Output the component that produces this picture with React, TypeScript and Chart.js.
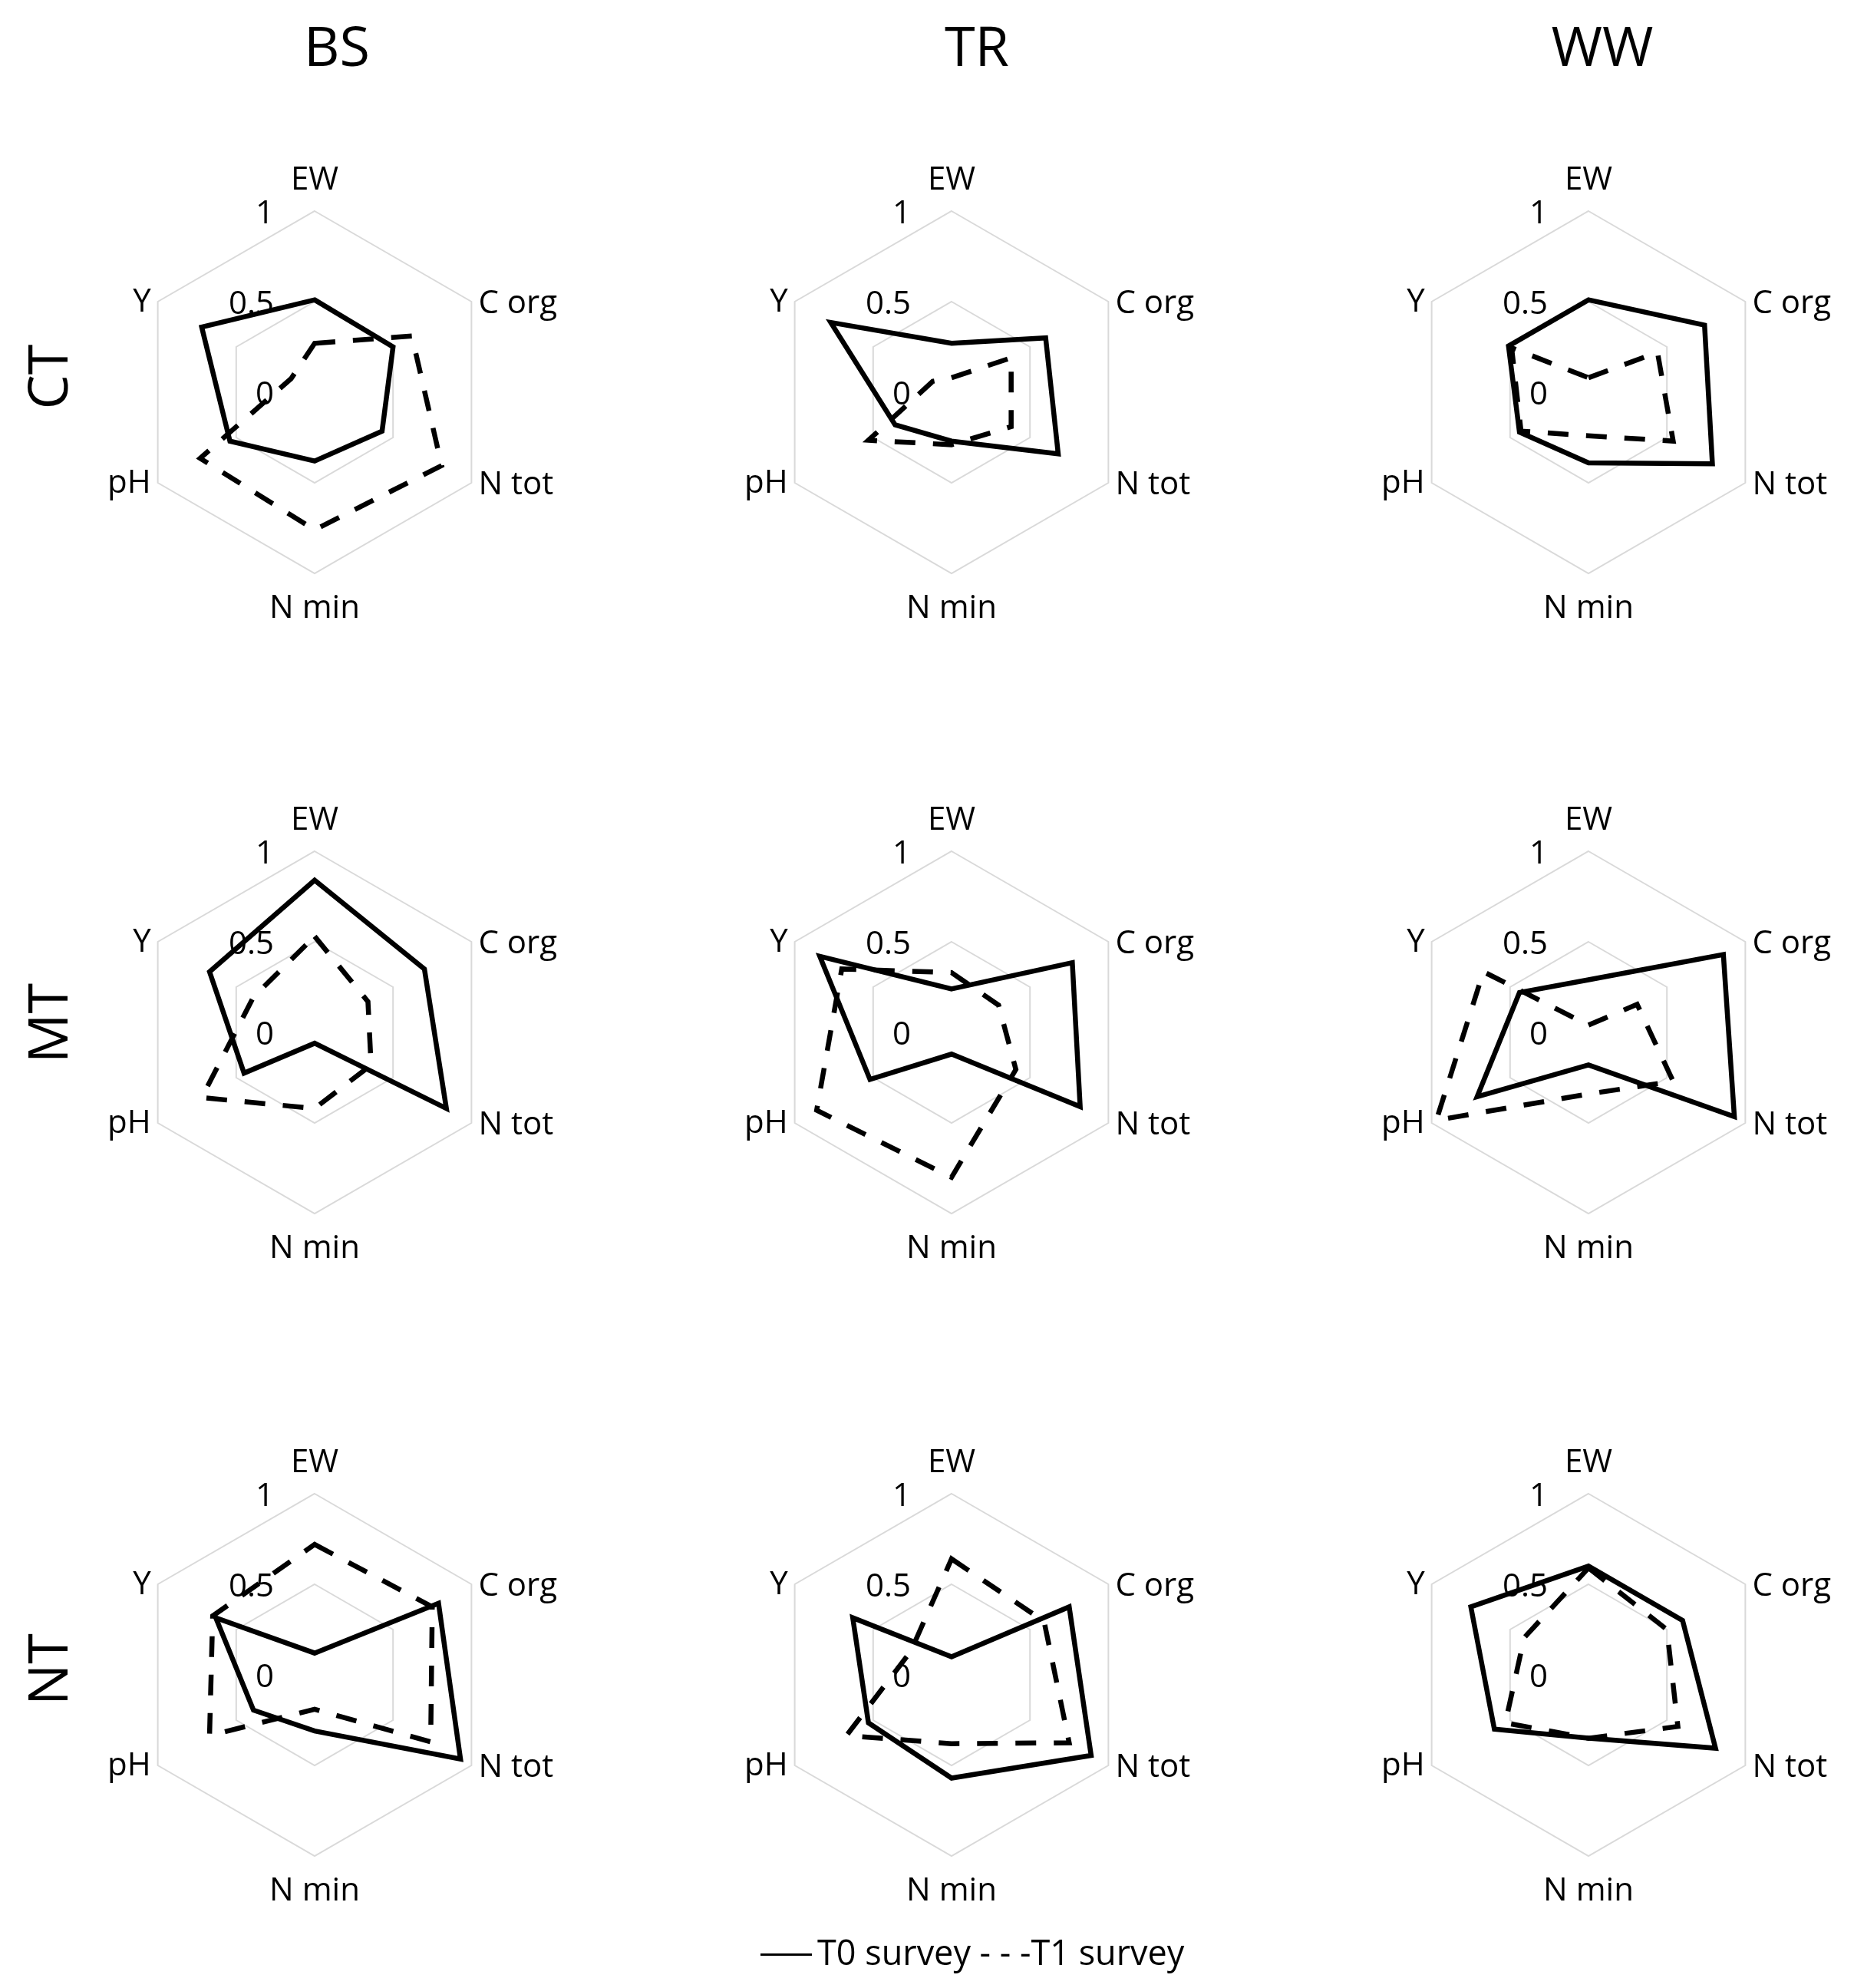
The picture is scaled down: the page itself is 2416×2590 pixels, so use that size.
import React, { useEffect, useRef } from 'react';
import { Chart, registerables } from 'chart.js';

Chart.register(...registerables);

// ---------- data ----------
const AXES = ['EW', 'C org', 'N tot', 'N min', 'pH', 'Y'];
const COLUMNS = ['BS', 'TR', 'WW'];
const ROWS = ['CT', 'MT', 'NT'];
const TICK_VALUES = [0, 0.5, 1];
const SERIES_NAMES = ['T0 survey', 'T1 survey'];

// order of values follows AXES
const BS_CT_T0 = [0.51, 0.5, 0.43, 0.38, 0.54, 0.72];
const BS_CT_T1 = [0.27, 0.62, 0.81, 0.76, 0.73, 0.15];
const TR_CT_T0 = [0.27, 0.6, 0.68, 0.27, 0.36, 0.77];
const TR_CT_T1 = [0.08, 0.38, 0.38, 0.29, 0.53, 0.12];
const WW_CT_T0 = [0.51, 0.74, 0.79, 0.39, 0.44, 0.51];
const WW_CT_T1 = [0.08, 0.44, 0.54, 0.24, 0.43, 0.49];

const BS_MT_T0 = [0.84, 0.7, 0.84, 0.06, 0.45, 0.67];
const BS_MT_T1 = [0.53, 0.34, 0.36, 0.42, 0.72, 0.39];
const TR_MT_T0 = [0.24, 0.77, 0.82, 0.12, 0.52, 0.84];
const TR_MT_T1 = [0.33, 0.3, 0.41, 0.8, 0.86, 0.7];
const WW_MT_T0 = [0.29, 0.86, 0.93, 0.18, 0.71, 0.44];
const WW_MT_T1 = [0.04, 0.31, 0.54, 0.34, 0.97, 0.67];

const BS_NT_T0 = [0.12, 0.79, 0.93, 0.31, 0.39, 0.63];
const BS_NT_T1 = [0.72, 0.75, 0.74, 0.19, 0.67, 0.65];
const TR_NT_T0 = [0.1, 0.75, 0.89, 0.57, 0.53, 0.63];
const TR_NT_T1 = [0.64, 0.59, 0.75, 0.38, 0.67, 0.26];
const WW_NT_T0 = [0.6, 0.6, 0.81, 0.35, 0.6, 0.75];
const WW_NT_T1 = [0.59, 0.5, 0.57, 0.35, 0.53, 0.41];

const PANEL_DATA = [
  [[BS_CT_T0, BS_CT_T1], [TR_CT_T0, TR_CT_T1], [WW_CT_T0, WW_CT_T1]],
  [[BS_MT_T0, BS_MT_T1], [TR_MT_T0, TR_MT_T1], [WW_MT_T0, WW_MT_T1]],
  [[BS_NT_T0, BS_NT_T1], [TR_NT_T0, TR_NT_T1], [WW_NT_T0, WW_NT_T1]],
];

// ---------- layout / style ----------
const FONT_FAMILY = '"Open Sans", "Noto Sans", sans-serif';
const AXIS_FONT_PX = 42;
const TITLE_FONT_PX = 72;
const LEGEND_FONT_PX = 45;
const CENTER_X = [410, 1240, 2070];
const CENTER_Y = [511, 1345, 2182];
const TITLE_X = [439, 1273, 2088];
const TITLE_CAP_Y = 60;
const ROW_LABEL_X = 62;
const ROW_LABEL_Y = [491, 1333, 2175];
const CANVAS_SIZE = 800;
const RADIUS = 236;
const PAD = CANVAS_SIZE / 2 - RADIUS;
const LINE_W = 6.5;
const DASH = [27, 23];
const GRID_COLOR = '#d9d9d9';

const labelPlugin = {
  id: 'customRadarLabels',
  beforeDatasetsDraw(chart: any) {
    const scale = chart.scales.r;
    const ctx = chart.ctx as CanvasRenderingContext2D;
    const r = scale.drawingArea;
    ctx.save();
    ctx.fillStyle = '#000';
    ctx.font = `${AXIS_FONT_PX}px ${FONT_FAMILY}`;
    ctx.textBaseline = 'alphabetic';
    // tick labels to the left of the vertical axis
    ctx.textAlign = 'right';
    TICK_VALUES.forEach((v) => {
      const d = scale.getDistanceFromCenterForValue(v);
      ctx.fillText(String(v), scale.xCenter - 53, scale.yCenter - d + 16);
    });
    // axis (point) labels
    AXES.forEach((lab, i) => {
      const p = scale.getPointPosition(i, r);
      if (i === 0) {
        ctx.textAlign = 'center';
        ctx.fillText(lab, p.x, p.y - 28);
      } else if (i === 3) {
        ctx.textAlign = 'center';
        ctx.fillText(lab, p.x, p.y + 58);
      } else if (i === 1 || i === 2) {
        ctx.textAlign = 'left';
        ctx.fillText(lab, p.x + 9, p.y + 15);
      } else {
        ctx.textAlign = 'right';
        ctx.fillText(lab, p.x - 9, p.y + 13);
      }
    });
    ctx.restore();
  },
};

function RadarPanel({ t0, t1, left, top }: { t0: number[]; t1: number[]; left: number; top: number }) {
  const ref = useRef<HTMLCanvasElement>(null);
  useEffect(() => {
    let chart: Chart | null = null;
    let cancelled = false;
    const make = () => {
      if (cancelled || !ref.current) return;
      chart = new Chart(ref.current, {
        type: 'radar',
        data: {
          labels: AXES,
          datasets: [
            {
              label: SERIES_NAMES[0],
              data: t0,
              borderColor: '#000',
              backgroundColor: 'transparent',
              borderWidth: LINE_W,
              fill: false,
              pointRadius: 0,
              borderJoinStyle: 'miter',
            },
            {
              label: SERIES_NAMES[1],
              data: t1,
              borderColor: '#000',
              backgroundColor: 'transparent',
              borderWidth: LINE_W,
              borderDash: DASH,
              fill: false,
              pointRadius: 0,
              borderJoinStyle: 'miter',
            },
          ],
        },
        options: {
          responsive: false,
          animation: false,
          devicePixelRatio: 1,
          layout: { padding: PAD },
          plugins: { legend: { display: false }, tooltip: { enabled: false } },
          elements: { line: { tension: 0 } },
          scales: {
            r: {
              min: 0,
              max: 1,
              beginAtZero: true,
              ticks: { display: false, stepSize: 0.5 },
              grid: { color: GRID_COLOR, lineWidth: 2, circular: false },
              angleLines: { display: false },
              pointLabels: { display: false },
            },
          },
        } as any,
        plugins: [labelPlugin],
      });
    };
    const fonts = (document as any).fonts;
    if (fonts && fonts.load) {
      fonts.load(`${AXIS_FONT_PX}px "Open Sans"`).then(make, make);
    } else {
      make();
    }
    return () => {
      cancelled = true;
      if (chart) chart.destroy();
    };
  }, [t0, t1]);
  return (
    <canvas
      ref={ref}
      width={CANVAS_SIZE}
      height={CANVAS_SIZE}
      style={{ position: 'absolute', left, top, width: CANVAS_SIZE, height: CANVAS_SIZE }}
    />
  );
}

export default function App() {
  const capOffset = 0.531; // cap centre within a line box of line-height 1 (Open Sans)
  return (
    <div
      style={{
        position: 'absolute',
        left: 0,
        top: 0,
        width: 2416,
        height: 2590,
        background: '#fff',
        overflow: 'hidden',
        fontFamily: FONT_FAMILY,
        color: '#000',
      }}
    >
      {PANEL_DATA.map((row, ri) =>
        row.map((pair, ci) => (
          <RadarPanel
            key={`${ri}-${ci}`}
            t0={pair[0]}
            t1={pair[1]}
            left={CENTER_X[ci] - CANVAS_SIZE / 2}
            top={CENTER_Y[ri] - CANVAS_SIZE / 2}
          />
        ))
      )}
      {COLUMNS.map((c, i) => (
        <div
          key={c}
          style={{
            position: 'absolute',
            left: TITLE_X[i] - 200,
            width: 400,
            top: TITLE_CAP_Y - capOffset * TITLE_FONT_PX,
            fontSize: TITLE_FONT_PX,
            lineHeight: `${TITLE_FONT_PX}px`,
            textAlign: 'center',
            whiteSpace: 'nowrap',
          }}
        >
          {c}
        </div>
      ))}
      {ROWS.map((r, i) => (
        <div
          key={r}
          style={{
            position: 'absolute',
            left: ROW_LABEL_X - 2 - 100,
            width: 200,
            top: ROW_LABEL_Y[i] - TITLE_FONT_PX / 2,
            height: TITLE_FONT_PX,
            fontSize: TITLE_FONT_PX,
            lineHeight: `${TITLE_FONT_PX}px`,
            textAlign: 'center',
            whiteSpace: 'nowrap',
            transform: 'rotate(-90deg)',
            transformOrigin: '50% 50%',
          }}
        >
          {r}
        </div>
      ))}
      <div
        style={{
          position: 'absolute',
          left: 991,
          top: 2545,
          width: 67,
          height: 3,
          background: '#000',
        }}
      />
      <div
        style={{
          position: 'absolute',
          left: 1065,
          top: 2544 - capOffset * LEGEND_FONT_PX,
          fontSize: LEGEND_FONT_PX,
          lineHeight: `${LEGEND_FONT_PX}px`,
          whiteSpace: 'pre',
        }}
      >
        {`${SERIES_NAMES[0]} - - -${SERIES_NAMES[1]}`}
      </div>
    </div>
  );
}
